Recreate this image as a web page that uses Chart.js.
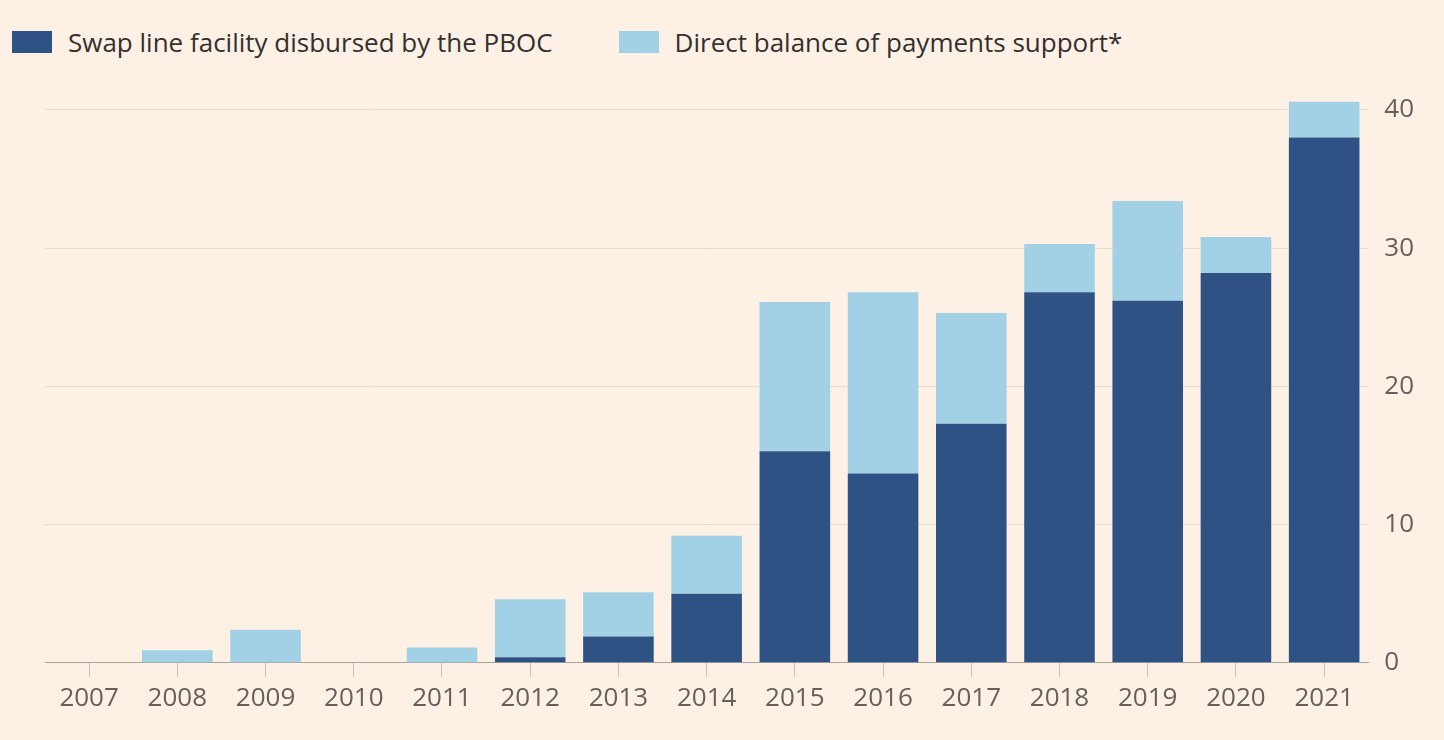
<!DOCTYPE html>
<html><head><meta charset="utf-8">
<script src="https://cdn.jsdelivr.net/npm/chart.js@4"></script>
<style>html,body{margin:0;background:#fdf1e6;}
#w{position:relative;width:1444px;height:740px;}
#lg{position:absolute;left:12px;top:24px;font:26px "Open Sans",sans-serif;color:#33302e;display:flex;gap:66px;}
#lg span.i{display:flex;align-items:center;}
#lg b{display:inline-block;width:40px;height:22px;margin-right:16px;}
#cw{position:absolute;left:0;top:70px;width:1444px;height:670px;}</style>
</head><body><div id="w">
<div id="lg"><span class="i"><b style="background:#2e5283"></b>Swap line facility disbursed by the PBOC</span><span class="i"><b style="background:#a2d0e5"></b>Direct balance of payments support*</span></div>
<div id="cw"><canvas id="c"></canvas></div></div>
<script>
const years=['2007','2008','2009','2010','2011','2012','2013','2014','2015','2016','2017','2018','2019','2020','2021'];
const swapLine=[0,0,0,0,0,0.4,1.9,5.0,15.3,13.7,17.3,26.8,26.2,28.2,38.0];
const directSupport=[0,0.9,2.4,0,1.1,4.2,3.2,4.2,10.8,13.1,8.0,3.5,7.2,2.6,2.6];
const yTicks=[0,10,20,30,40];
Chart.defaults.font.family='"Open Sans", sans-serif';
Chart.defaults.color='#66605c';
new Chart(document.getElementById('c'),{
type:'bar',
data:{labels:years,datasets:[
{label:'Swap line facility disbursed by the PBOC',data:swapLine,backgroundColor:'#2e5283',categoryPercentage:0.8,barPercentage:1},
{label:'Direct balance of payments support*',data:directSupport,backgroundColor:'#a2d0e5',categoryPercentage:0.8,barPercentage:1}]},
options:{responsive:true,maintainAspectRatio:false,animation:false,
layout:{padding:{left:45,right:14,top:6,bottom:20}},
plugins:{tooltip:{enabled:false},legend:{display:false}},
scales:{
x:{stacked:true,grid:{display:true,offset:false,drawOnChartArea:false,drawTicks:true,tickLength:14,color:'#c8c2bc'},
border:{display:true,color:'#a9a39e'},ticks:{font:{size:26},padding:6}},
y:{stacked:true,position:'right',min:0,max:40.6,afterBuildTicks:a=>{a.ticks=yTicks.map(v=>({value:v}));},
grid:{color:'#e3dcd4',drawTicks:false},border:{display:false},ticks:{font:{size:26},padding:16}}
}}});
</script></body></html>
